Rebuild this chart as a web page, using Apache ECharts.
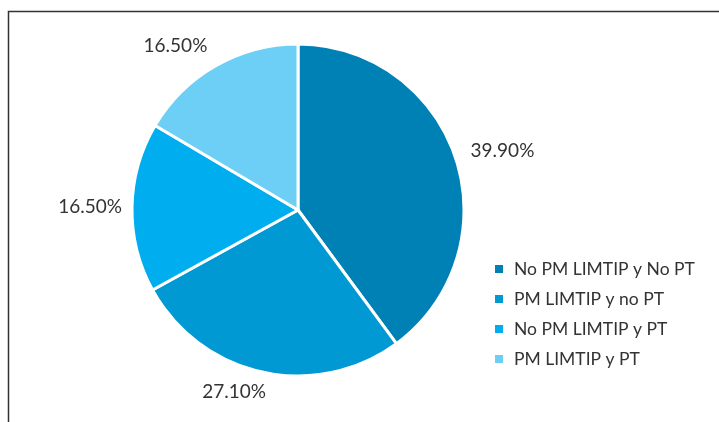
<!DOCTYPE html>
<html>
<head>
<meta charset="utf-8">
<script src="https://cdn.jsdelivr.net/npm/echarts@6/dist/echarts.min.js"></script>
<style>
  html, body { margin: 0; padding: 0; background: #fff; }
  #chart { width: 719px; height: 422px; }
</style>
</head>
<body>
<div id="chart"></div>
<script>
// Segment names and their shares (%)
const categories = ['No PM LIMTIP y No PT', 'PM LIMTIP y no PT', 'No PM LIMTIP y PT', 'PM LIMTIP y PT'];
const shares = [39.9, 27.1, 16.5, 16.5];
const colors = ['#0081B5', '#0099D3', '#00AEEF', '#6DCFF6'];
// Per-slice label leader lengths (hidden lines, used only to place the labels)
const leadLengths = [23, 20, 8, 23];
const leadLengths2 = [-10, -11, -1, -6];

const chart = echarts.init(document.getElementById('chart'));
const fontFamily = 'Lato, "Open Sans", sans-serif';

chart.setOption({
  animation: false,
  color: colors,
  graphic: [{
    type: 'polyline',
    shape: { points: [[8.5, 422], [8.5, 11.5], [719, 11.5]] },
    style: { stroke: '#333', lineWidth: 1.5, fill: null },
    silent: true
  }],
  legend: {
    orient: 'vertical',
    left: 488,
    top: 255,
    icon: 'rect',
    itemWidth: 10,
    itemHeight: 10,
    itemGap: 12,
    data: categories,
    textStyle: {
      fontFamily: fontFamily,
      fontSize: 17.5,
      color: '#333',
      lineHeight: 18,
      padding: [0, 0, 0, 5]
    }
  },
  series: [{
    type: 'pie',
    center: [298, 210],
    radius: [0, 166],
    startAngle: 90,
    clockwise: true,
    avoidLabelOverlap: false,
    itemStyle: { borderColor: '#fff', borderWidth: 3 },
    label: {
      show: true,
      position: 'outside',
      fontFamily: fontFamily,
      fontSize: 19,
      color: '#333',
      distanceToLabelLine: 3,
      formatter: p => p.value.toFixed(2) + '%'
    },
    labelLine: { show: false },
    data: categories.map((name, i) => ({
      name: name,
      value: shares[i],
      labelLine: { show: false, length: leadLengths[i], length2: leadLengths2[i] }
    }))
  }]
});
</script>
</body>
</html>
